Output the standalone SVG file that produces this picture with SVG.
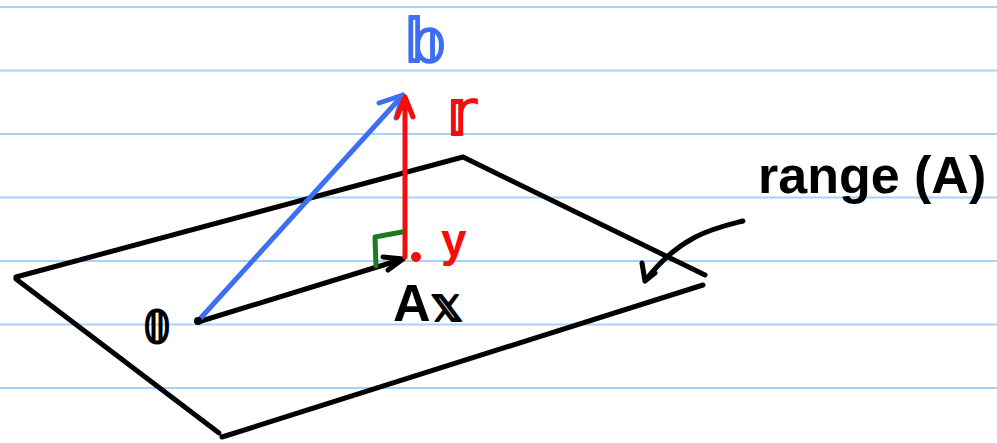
<svg xmlns="http://www.w3.org/2000/svg" width="997" height="443" viewBox="0 0 997 443">
<style>
.rule{stroke:#a9d0f7;stroke-width:2}
.ink{fill:none;stroke-linecap:round;stroke-linejoin:round;stroke-width:5}
.k{stroke:#000}.b{stroke:#3d6ef5}.r{stroke:#f50d0d}.g{stroke:#1e7a1e}
.ds{font-family:"DejaVu Sans",sans-serif;stroke-width:1.8;stroke-linejoin:round;font-weight:normal}
.hw{font-family:"Liberation Sans",Arial,sans-serif;font-weight:bold}
</style>
<rect width="997" height="443" fill="#fff"/>
<g id="rules">
<line class="rule" x1="0" y1="7" x2="997" y2="7"/>
<line class="rule" x1="0" y1="70.5" x2="997" y2="70.5"/>
<line class="rule" x1="0" y1="134" x2="997" y2="134"/>
<line class="rule" x1="0" y1="197.5" x2="997" y2="197.5"/>
<line class="rule" x1="0" y1="261" x2="997" y2="261"/>
<line class="rule" x1="0" y1="324.5" x2="997" y2="324.5"/>
<line class="rule" x1="0" y1="388" x2="997" y2="388"/>
</g>
<g id="plane">
<path class="ink k" d="M16 277 L463 157 L705 275"/>
<path class="ink k" d="M16 279 L219 433"/>
<path class="ink k" d="M703 285 L222 437"/>
</g>
<g id="connectors">
<path class="ink k" d="M198 322 L403 259 M383 257 L403 259 L388 270"/>
<path class="ink b" d="M198 321 L403 95 M379 103 L403 95 L396 118"/>
<path class="ink r" d="M405 257 L405 97 M397 117 L405 97 L413 117"/>
<path class="ink g" d="M376 266 L375 237 L402 232"/>
<path class="ink k" d="M743 221 C715 228 680 235 645 281 M642 263 L645 281 L655 273"/>
<circle cx="198" cy="321" r="4" fill="#000"/>
<circle cx="416" cy="257" r="5" fill="#f50d0d"/>
</g>
<g id="labels">
<text class="ds" x="405" y="62" font-size="60" fill="#3d6ef5" stroke="#3d6ef5">𝕓</text>
<text class="ds" x="446" y="135" font-size="64" fill="#f50d0d" stroke="#f50d0d">𝕣</text>
<text class="hw" x="441" y="256" font-size="46" fill="#f50d0d">y</text>
<text class="hw" x="393" y="321" font-size="52" fill="#000">A<tspan class="ds" font-size="48" stroke="#000">𝕩</tspan></text>
<text class="ds" x="143" y="343" font-size="44" fill="#000" stroke="#000">𝟘</text>
<text class="hw" x="758" y="193" font-size="52" fill="#000">range (A)</text>
</g>
</svg>
